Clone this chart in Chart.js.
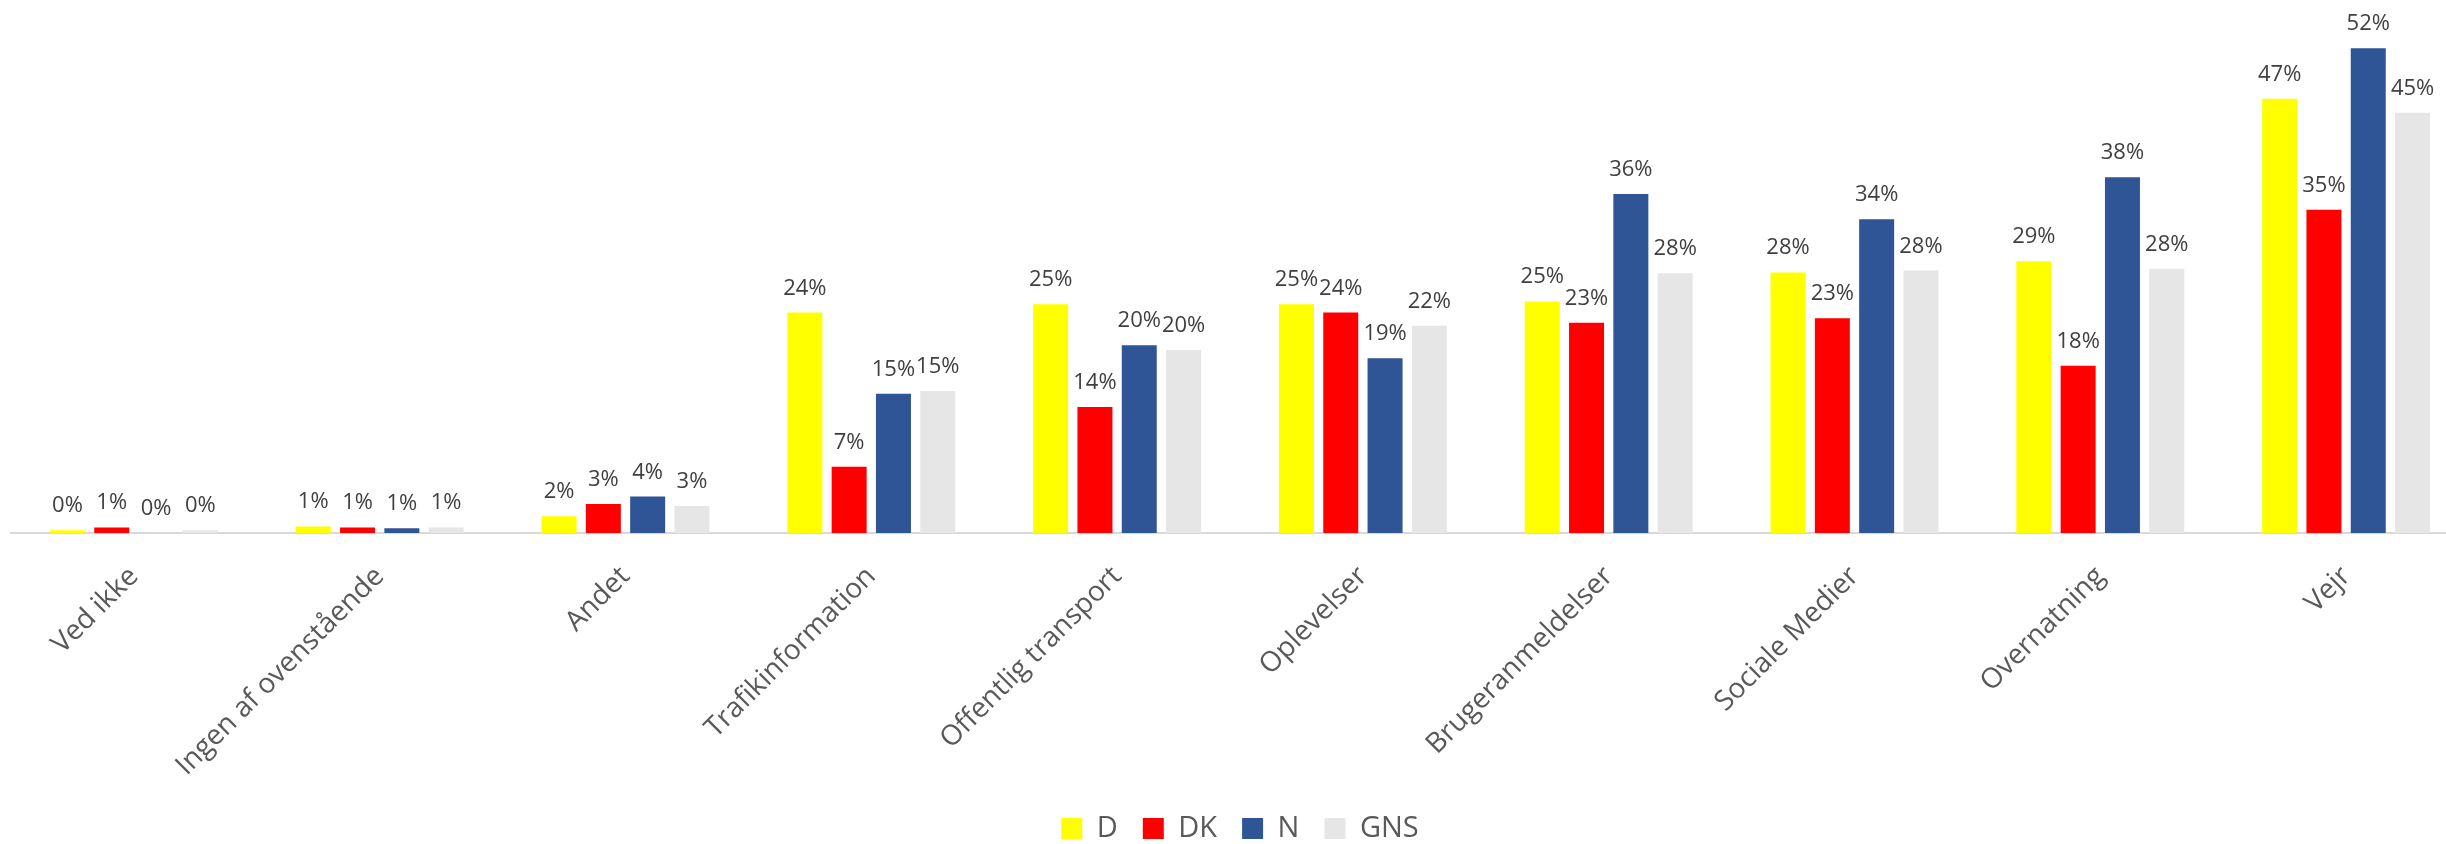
<!DOCTYPE html>
<html>
<head>
<meta charset="utf-8">
<script src="https://cdn.jsdelivr.net/npm/chart.js@4"></script>
<style>
  html, body { margin: 0; padding: 0; background: #fff; overflow: hidden; }
  #wrap { width: 2480px; height: 844px; }
</style>
</head>
<body>
<div id="wrap"><canvas id="graph"></canvas></div>
<script>
// categories along the x axis
var categories = ['Ved ikke', 'Ingen af ovenstående', 'Andet', 'Trafikinformation',
    'Offentlig transport', 'Oplevelser', 'Brugeranmeldelser', 'Sociale Medier',
    'Overnatning', 'Vejr'];

// shares in percent
var valuesD   = [0.3, 0.7, 1.8, 23.6, 24.5, 24.5, 24.8, 27.9, 29.1, 46.5];
var valuesDK  = [0.6, 0.6, 3.1, 7.1, 13.5, 23.6, 22.5, 23.0, 17.9, 34.6];
var valuesN   = [0.0, 0.5, 3.9, 14.9, 20.1, 18.7, 36.3, 33.6, 38.1, 51.9];
var valuesGNS = [0.3, 0.6, 2.9, 15.2, 19.6, 22.2, 27.8, 28.1, 28.3, 45.0];

var seriesNames = ['D', 'DK', 'N', 'GNS'];
var seriesColors = ['#FFFF00', '#FF0000', '#2F5597', '#E6E6E6'];

var fontName = '"Open Sans", "DejaVu Sans", sans-serif';

// value labels above each bar
var barLabels = {
    id: 'barLabels',
    afterDatasetsDraw: function (chart) {
        var ctx = chart.ctx;
        ctx.save();
        ctx.font = '22px ' + fontName;
        ctx.fillStyle = '#404040';
        ctx.textAlign = 'center';
        ctx.textBaseline = 'alphabetic';
        chart.data.datasets.forEach(function (ds, i) {
            var meta = chart.getDatasetMeta(i);
            meta.data.forEach(function (bar, j) {
                ctx.fillText(Math.round(ds.data[j]) + '%', bar.x, bar.y - 18);
            });
        });
        ctx.restore();
    }
};

var sets = [valuesD, valuesDK, valuesN, valuesGNS].map(function (vals, i) {
    return {
        label: seriesNames[i],
        data: vals,
        backgroundColor: seriesColors[i],
        borderWidth: 0,
        categoryPercentage: 0.721,
        barPercentage: 0.79
    };
});

var chart = new Chart(document.getElementById('graph'), {
    type: 'bar',
    data: { labels: categories, datasets: sets },
    plugins: [barLabels],
    options: {
        responsive: true,
        maintainAspectRatio: false,
        animation: false,
        layout: { padding: { left: 11, right: 11, top: 10, bottom: -9 } },
        plugins: {
            tooltip: { enabled: false },
            legend: {
                position: 'bottom',
                labels: {
                    boxWidth: 21,
                    boxHeight: 21,
                    padding: 25,
                    color: '#595959',
                    font: { family: fontName, size: 29 }
                }
            }
        },
        scales: {
            x: {
                grid: { display: false },
                border: { display: true, color: '#D9D9D9', width: 2 },
                ticks: {
                    maxRotation: 45,
                    minRotation: 45,
                    color: '#595959',
                    padding: 19,
                    font: { family: fontName, size: 28 }
                },
                afterFit: function (scale) {
                    scale.height = 256;
                }
            },
            y: {
                display: false,
                min: 0,
                max: 56
            }
        }
    }
});
</script>
</body>
</html>
